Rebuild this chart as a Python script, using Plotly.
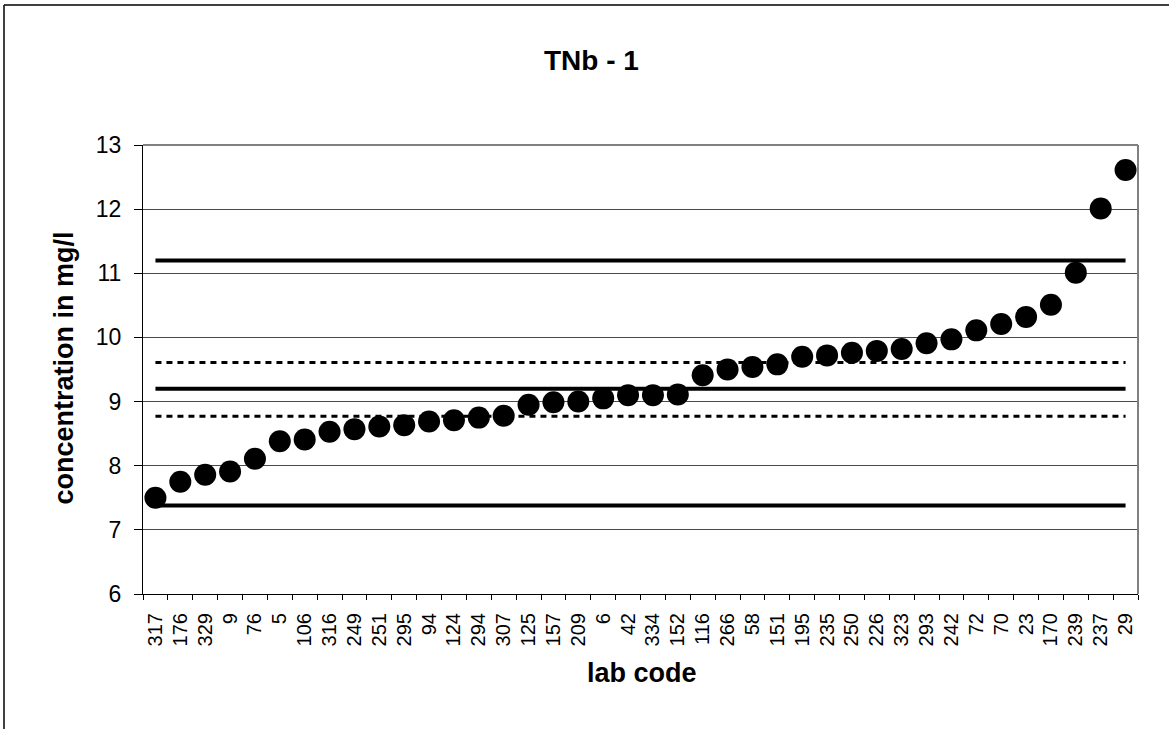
import plotly.graph_objects as go

lab_codes = ["317", "176", "329", "9", "76", "5", "106", "316", "249", "251",
             "295", "94", "124", "294", "307", "125", "157", "209", "6", "42",
             "334", "152", "116", "266", "58", "151", "195", "235", "250", "226",
             "323", "293", "242", "72", "70", "23", "170", "239", "237", "29"]
concentration = [7.50, 7.75, 7.86, 7.91, 8.11, 8.38, 8.41, 8.53, 8.57, 8.61,
                 8.63, 8.69, 8.71, 8.75, 8.78, 8.95, 8.99, 9.00, 9.05, 9.10,
                 9.10, 9.11, 9.41, 9.50, 9.54, 9.58, 9.70, 9.72, 9.76, 9.79,
                 9.82, 9.91, 9.97, 10.11, 10.21, 10.32, 10.51, 11.01, 12.01, 12.61]
solid_limits = [11.2, 9.2, 7.38]
dashed_limits = [9.61, 8.77]
y_ticks = [6, 7, 8, 9, 10, 11, 12, 13]

# pixel geometry of plot area
L, R, T, B = 143, 1138, 145, 594
W, H = 1169, 729
def px(x):
    return (x - L) / (R - L)
def py(y):
    return (B - y) / (B - T)

fig = go.Figure()

ends = [lab_codes[0], lab_codes[-1]]
for v in solid_limits:
    fig.add_trace(go.Scatter(x=ends, y=[v, v], mode="lines",
                             line=dict(color="black", width=4),
                             hoverinfo="skip", showlegend=False))
for v in dashed_limits:
    fig.add_trace(go.Scatter(x=ends, y=[v, v], mode="lines",
                             line=dict(color="black", width=3, dash="6px,5px"),
                             hoverinfo="skip", showlegend=False))

fig.add_trace(go.Scatter(x=lab_codes, y=concentration, mode="markers",
                         marker=dict(color="black", size=22, line=dict(width=0)),
                         showlegend=False))

font_family = "Liberation Sans, Arial, sans-serif"

fig.update_layout(
    width=W, height=H,
    margin=dict(l=L, r=W - R, t=T, b=H - B),
    paper_bgcolor="white", plot_bgcolor="white",
    font=dict(family=font_family, color="black"),
    xaxis=dict(
        type="category", categoryorder="array", categoryarray=lab_codes,
        range=[-0.5, len(lab_codes) - 0.5],
        tickson="boundaries", ticks="outside", ticklen=5, tickwidth=1, tickcolor="black",
        tickangle=-90, tickfont=dict(size=20, family=font_family),
        ticklabelstandoff=10,
        showline=True, linecolor="black", linewidth=1,
        showgrid=False, zeroline=False,
    ),
    yaxis=dict(
        range=[6, 13], tickvals=y_ticks,
        ticks="outside", ticklen=8, tickwidth=1, tickcolor="black",
        tickfont=dict(size=23, family=font_family),
        ticklabelstandoff=8,
        showline=True, linecolor="black", linewidth=1,
        showgrid=True, gridcolor="#4a4a4a", gridwidth=1,
        zeroline=False,
    ),
    annotations=[
        dict(text="<b>TNb - 1</b>", x=px(591), y=py(60), xref="paper", yref="paper",
             showarrow=False, xanchor="center", yanchor="middle",
             font=dict(size=28, family=font_family)),
        dict(text="<b>concentration in mg/l</b>", x=px(63), y=py(368.5),
             xref="paper", yref="paper", showarrow=False, textangle=-90,
             xanchor="center", yanchor="middle",
             font=dict(size=27, family=font_family)),
        dict(text="<b>lab code</b>", x=px(642), y=py(673), xref="paper", yref="paper",
             showarrow=False, xanchor="center", yanchor="middle",
             font=dict(size=27, family=font_family)),
    ],
    shapes=[
        # plot area top & right border (gray)
        dict(type="line", xref="paper", yref="paper", x0=0, x1=1, y0=1, y1=1,
             line=dict(color="#808080", width=2)),
        dict(type="line", xref="paper", yref="paper", x0=1, x1=1, y0=0, y1=1,
             line=dict(color="#808080", width=2)),
        # outer chart border (left and top edges visible)
        dict(type="line", xref="paper", yref="paper",
             x0=px(4), x1=px(4), y0=py(5), y1=py(760),
             line=dict(color="black", width=1.5)),
        dict(type="line", xref="paper", yref="paper",
             x0=px(4), x1=px(1200), y0=py(5), y1=py(5),
             line=dict(color="black", width=1.5)),
    ],
)

fig.write_html("out.html",
               config={"displayModeBar": False},
               post_script="document.body.style.margin='0';document.body.style.overflow='hidden';")
